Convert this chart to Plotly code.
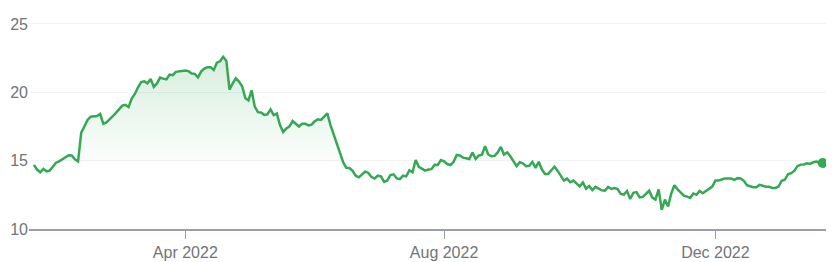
import pandas as pd
import plotly.graph_objects as go

# Daily closing prices (trading days, Jan 24 2022 - Jan 23 2023)
prices = [
    14.69, 14.35, 14.15, 14.40, 14.22, 14.27, 14.55, 14.85, 14.95, 15.10,
    15.27, 15.40, 15.38, 15.10, 14.95, 17.05, 17.50, 17.98, 18.22, 18.22,
    18.27, 18.42, 17.70, 17.80, 18.00, 18.25, 18.50, 18.80, 19.03, 19.08,
    18.92, 19.55, 19.88, 20.37, 20.75, 20.80, 20.66, 20.98, 20.40, 20.65,
    21.08, 21.00, 20.95, 21.30, 21.25, 21.50, 21.54, 21.54, 21.60, 21.55,
    21.38, 21.35, 21.10, 21.52, 21.73, 21.83, 21.83, 21.64, 22.17, 22.27,
    22.60, 22.30, 20.20, 20.65, 21.02, 20.78, 20.45, 19.58, 19.40, 20.15,
    18.95, 18.55, 18.52, 18.35, 18.38, 18.75, 18.33, 18.44, 17.60, 17.10,
    17.35, 17.50, 17.90, 17.70, 17.50, 17.70, 17.70, 17.58, 17.63, 17.88,
    18.02, 17.98, 18.25, 18.46, 17.60, 16.95, 16.30, 15.60, 14.90, 14.48,
    14.46, 14.25, 13.90, 13.78, 14.03, 14.20, 14.10, 13.80, 13.70, 13.90,
    13.85, 13.45, 13.55, 13.95, 14.00, 13.70, 13.65, 13.90, 13.85, 14.30,
    14.15, 15.05, 14.55, 14.38, 14.27, 14.35, 14.38, 14.70, 14.68, 15.05,
    14.95, 14.75, 14.68, 14.90, 15.42, 15.38, 15.22, 15.18, 15.12, 15.60,
    15.13, 15.37, 15.44, 16.05, 15.45, 15.32, 15.35, 15.60, 16.00, 15.45,
    15.61, 15.32, 14.98, 14.60, 14.88, 14.80, 14.60, 14.62, 14.90, 14.47,
    14.92, 14.35, 14.03, 14.02, 14.30, 14.56, 14.25, 13.90, 13.54, 13.68,
    13.42, 13.54, 13.34, 13.12, 13.40, 12.95, 13.15, 12.85, 13.08, 12.95,
    12.83, 12.81, 13.08, 12.93, 13.00, 12.92, 12.57, 12.52, 12.78, 12.20,
    12.65, 12.70, 12.32, 12.35, 12.57, 12.80, 12.30, 12.15, 12.90, 11.40,
    12.15, 11.65, 12.60, 13.20, 12.90, 12.65, 12.44, 12.37, 12.27, 12.60,
    12.50, 12.78, 12.62, 12.78, 12.93, 13.10, 13.54, 13.54, 13.62, 13.70,
    13.70, 13.70, 13.60, 13.72, 13.70, 13.52, 13.20, 13.10, 13.05, 13.05,
    13.23, 13.16, 13.10, 13.10, 13.00, 13.00, 13.10, 13.53, 13.60, 14.00,
    14.08, 14.25, 14.60, 14.71, 14.72, 14.80, 14.76, 14.88, 14.94, 14.85,
    14.83,
]

holidays = ["2022-02-21", "2022-04-15", "2022-05-30", "2022-06-20", "2022-07-04",
            "2022-09-05", "2022-11-24", "2022-12-26", "2023-01-02", "2023-01-16"]
tick_months = ["2022-04", "2022-08", "2022-12"]
tick_labels = ["Apr 2022", "Aug 2022", "Dec 2022"]
y_ticks = [10, 15, 20, 25]

dates = pd.bdate_range("2022-01-24", "2023-01-23", freq="C", holidays=holidays)
dates = list(dates[:len(prices)])
idx = list(range(len(prices)))
date_str = [d.strftime("%Y-%m-%d") for d in dates]

tickvals = []
for m in tick_months:
    for i, d in enumerate(date_str):
        if d.startswith(m):
            tickvals.append(i)
            break

GREEN = "#34a853"
GREY_TXT = "#70757a"

fig = go.Figure()
fig.add_trace(go.Scatter(
    x=idx, y=prices, mode="lines",
    line=dict(color=GREEN, width=2.5),
    fill="tozeroy",
    fillgradient=dict(
        type="vertical",
        colorscale=[[0, "rgba(52,168,83,0)"], [1, "rgba(52,168,83,0.2)"]],
        start=14.3, stop=22.7,
    ),
    hoverinfo="skip",
    showlegend=False,
))
fig.add_trace(go.Scatter(
    x=[idx[-1]], y=[prices[-1]], mode="markers",
    marker=dict(color=GREEN, size=10),
    hoverinfo="skip", showlegend=False,
))

fig.update_layout(
    width=833, height=262,
    margin=dict(l=29, r=7, t=20, b=33),
    paper_bgcolor="white", plot_bgcolor="white",
    font=dict(family="Arial, Liberation Sans, sans-serif", size=16, color=GREY_TXT),
)
fig.update_xaxes(
    range=[-1.55, len(prices) + 0.05],
    tickvals=tickvals, ticktext=tick_labels,
    showgrid=False, zeroline=False, automargin=False,
    showline=True, linecolor="#9aa0a6", linewidth=2,
    ticks="outside", ticklen=8, tickwidth=1, tickcolor="#9aa0a6",
    tickfont=dict(size=16, color=GREY_TXT),
)
fig.update_yaxes(
    range=[10, 25.29],
    tickvals=y_ticks,
    showgrid=True, gridcolor="#f1f3f4", gridwidth=1,
    zeroline=False, showline=False, automargin=False,
    ticks="", ticklabelstandoff=0,
    tickfont=dict(size=16, color=GREY_TXT),
)

fig.write_html("out.html")
